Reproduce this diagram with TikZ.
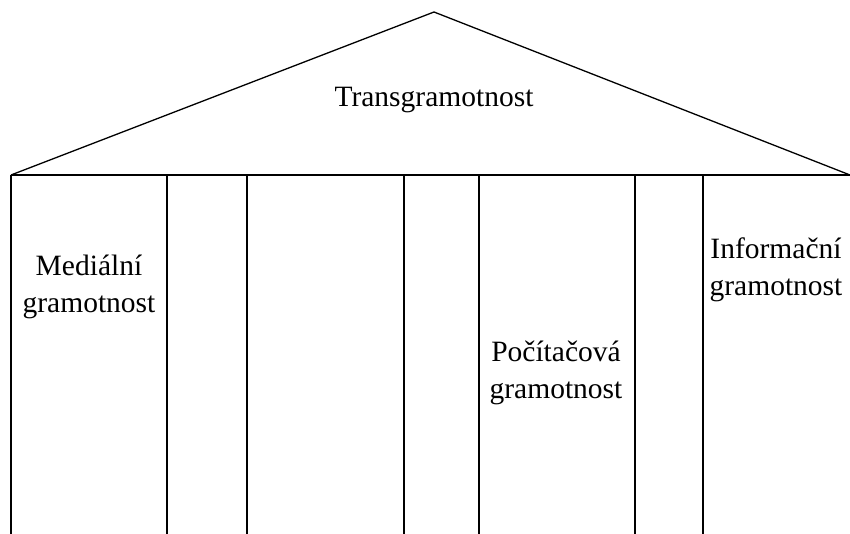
\documentclass[tikz,border=0pt]{standalone}
\usepackage{fontspec}
\setmainfont{Liberation Serif}
\begin{document}
\begin{tikzpicture}[x=1pt,y=-1pt,line width=1.3pt,
    label/.style={align=center,font=\fontsize{29.5}{37}\selectfont,inner sep=0pt}]
      \useasboundingbox (0,0) rectangle (850,534);
      \draw
        (434,12) coordinate (apex)
        (11,175) coordinate (eaveL)
        (850,175) coordinate (eaveR);
      \foreach \i/\x in {0/11,1/167,2/247,3/404,4/479,5/635,6/703}
        \draw (\x,175) coordinate (top\i) (\x,534) coordinate (foot\i);
      \node[label] (trans) at (434,100) {Transgramotnost};
      \node[label] (medial) at (89,287) {Mediální\\gramotnost};
      \node[label] (pocitac) at (556,373) {Počítačová\\gramotnost};
      \node[label] (inform) at (776,270) {Informační\\gramotnost};
      \begin{scope}[-]
        \draw (eaveL) to (apex);
        \draw (apex) to (eaveR);
        \draw (eaveL) to (eaveR);
        \foreach \i in {0,...,6}
          \draw (top\i) to (foot\i);
      \end{scope}
    \end{tikzpicture}
\end{document}
